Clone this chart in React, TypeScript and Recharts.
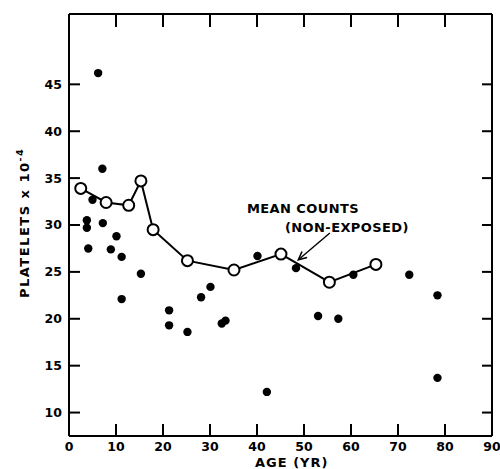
import { ScatterChart, Scatter, XAxis, YAxis, ReferenceLine, Customized } from 'recharts';

// Age axis (years) and platelet axis (x 10^-4)
const ageTicks = [0, 10, 20, 30, 40, 50, 60, 70, 80, 90];
const frameAgeTicks = [10, 20, 30, 40, 50, 60, 70, 80];
const countTicks = [10, 15, 20, 25, 30, 35, 40, 45];

// Individual (exposed) subjects
const subjectAges = [
  6.2, 7.1, 5.0, 3.8, 3.8, 7.2, 10.1, 4.1, 8.9, 11.2, 15.3, 11.2, 21.3, 21.3,
  25.2, 28.1, 30.1, 32.5, 33.3, 40.1, 42.1, 48.3, 53.0, 57.3, 60.5, 72.4, 78.4, 78.4,
];
const subjectCounts = [
  46.2, 36.0, 32.7, 30.5, 29.7, 30.2, 28.8, 27.5, 27.4, 26.6, 24.8, 22.1, 20.9, 19.3,
  18.6, 22.3, 23.4, 19.5, 19.8, 26.7, 12.2, 25.4, 20.3, 20.0, 24.7, 24.7, 22.5, 13.7,
];

// Mean counts of the non-exposed group
const meanAges = [2.5, 7.9, 12.7, 15.3, 17.9, 25.2, 35.1, 45.1, 55.4, 65.3];
const meanCounts = [33.9, 32.4, 32.1, 34.7, 29.5, 26.2, 25.2, 26.9, 23.9, 25.8];

const subjects = subjectAges.map((x, i) => ({ x, y: subjectCounts[i] }));
const means = meanAges.map((x, i) => ({ x, y: meanCounts[i] }));

const AGE_DOMAIN = [0, 90];
const COUNT_DOMAIN = [7.5, 52.5];

const FONT = "'DejaVu Sans', sans-serif";
const frameLine = { stroke: '#000', strokeWidth: 2 };
const tickStyle = { fill: '#000', fontSize: 12.5, fontWeight: 'bold', fontFamily: FONT };

// Inward tick marks as small filled bars at both ends of each grid position
const VerticalTickMarks = (props: any) => {
  const x = Number(props.x1);
  const top = Math.min(Number(props.y1), Number(props.y2));
  const bottom = Math.max(Number(props.y1), Number(props.y2));
  return (
    <g>
      <rect x={x - 1} y={top} width={2} height={13} fill="#000" />
      <rect x={x - 1} y={bottom - 12} width={2} height={12} fill="#000" />
    </g>
  );
};

const HorizontalTickMarks = (props: any) => {
  const y = Number(props.y1);
  const left = Math.min(Number(props.x1), Number(props.x2));
  const right = Math.max(Number(props.x1), Number(props.x2));
  return (
    <g>
      <rect x={left} y={y - 1} width={11} height={2} fill="#000" />
      <rect x={right - 10} y={y - 1} width={10} height={2} fill="#000" />
    </g>
  );
};

const FilledDot = (props: any) => <circle cx={props.cx} cy={props.cy} r={4.2} fill="#000" />;
const OpenDot = (props: any) => (
  <circle cx={props.cx} cy={props.cy} r={5.5} fill="#fff" stroke="#000" strokeWidth={2} />
);

const Arrow = (props: any) => {
  const { x1, y1, x2, y2 } = props;
  const a = Math.atan2(y2 - y1, x2 - x1);
  const len = 9;
  const spread = 0.45;
  const p1 = [x2 - len * Math.cos(a - spread), y2 - len * Math.sin(a - spread)];
  const p2 = [x2 - len * Math.cos(a + spread), y2 - len * Math.sin(a + spread)];
  return (
    <g>
      <line x1={x1} y1={y1} x2={x2} y2={y2} stroke="#000" strokeWidth={1.4} />
      <polyline
        points={`${p1[0]},${p1[1]} ${x2},${y2} ${p2[0]},${p2[1]}`}
        fill="none"
        stroke="#000"
        strokeWidth={1.6}
      />
    </g>
  );
};

const Captions = () => (
  <g fontFamily={FONT} fontWeight="bold" fill="#000">
    <text x={247} y={213} fontSize={13} letterSpacing={0.4}>
      MEAN COUNTS
    </text>
    <text x={285} y={231.5} fontSize={13} letterSpacing={0.4}>
      (NON-EXPOSED)
    </text>
    <text x={255} y={467} fontSize={13} letterSpacing={1}>
      AGE (YR)
    </text>
    <text x={28.5} y={298} fontSize={13} letterSpacing={1.5} transform="rotate(-90 28.5 298)">
      PLATELETS x 10
      <tspan fontSize={9.5} dy={-6}>
        -4
      </tspan>
    </text>
  </g>
);

export default function App() {
  return (
    <div style={{ position: 'absolute', left: 0, top: 0, background: '#fff' }}>
      <ScatterChart width={500} height={469} margin={{ top: 13, right: 7, bottom: 0, left: 0 }}>
        <XAxis
          xAxisId="bottom"
          type="number"
          dataKey="x"
          domain={AGE_DOMAIN}
          ticks={ageTicks}
          height={33}
          axisLine={frameLine}
          tickLine={false}
          tickSize={0}
          tickMargin={6}
          tick={tickStyle}
          interval={0}
        />
        <YAxis
          yAxisId="left"
          type="number"
          dataKey="y"
          domain={COUNT_DOMAIN}
          ticks={countTicks}
          width={69}
          axisLine={frameLine}
          tickLine={false}
          tickSize={0}
          tickMargin={7}
          tick={tickStyle}
          interval={0}
        />
        {/* top and right sides of the frame */}
        <XAxis
          xAxisId="top"
          orientation="top"
          type="number"
          dataKey="x"
          domain={AGE_DOMAIN}
          height={1}
          axisLine={frameLine}
          tickLine={false}
          tick={false}
        />
        <YAxis
          yAxisId="right"
          orientation="right"
          type="number"
          dataKey="y"
          domain={COUNT_DOMAIN}
          width={1}
          axisLine={frameLine}
          tickLine={false}
          tick={false}
        />
        {frameAgeTicks.map((age) => (
          <ReferenceLine
            key={`age-${age}`}
            xAxisId="bottom"
            yAxisId="left"
            x={age}
            stroke="#000"
            shape={VerticalTickMarks}
          />
        ))}
        {countTicks.map((count) => (
          <ReferenceLine
            key={`count-${count}`}
            xAxisId="bottom"
            yAxisId="left"
            y={count}
            stroke="#000"
            shape={HorizontalTickMarks}
          />
        ))}
        <Scatter
          data={subjects}
          xAxisId="bottom"
          yAxisId="left"
          shape={FilledDot}
          isAnimationActive={false}
        />
        <Scatter
          data={means}
          xAxisId="bottom"
          yAxisId="left"
          line={{ stroke: '#000', strokeWidth: 2 }}
          lineType="joint"
          shape={OpenDot}
          isAnimationActive={false}
        />
        <ReferenceLine
          xAxisId="bottom"
          yAxisId="left"
          segment={[
            { x: 55.5, y: 29.15 },
            { x: 48.8, y: 26.3 },
          ]}
          shape={Arrow}
        />
        <Customized component={Captions} />
      </ScatterChart>
    </div>
  );
}
